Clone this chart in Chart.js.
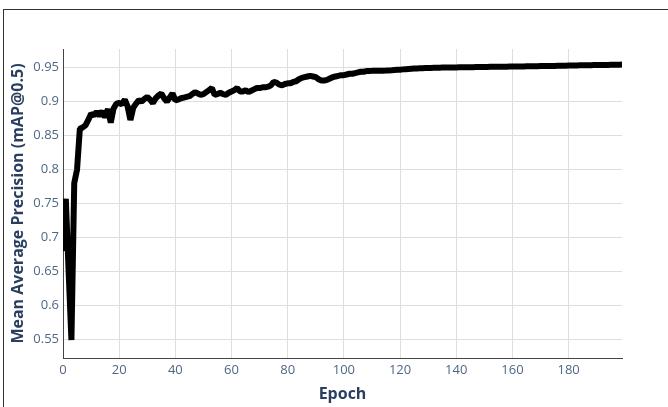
<!DOCTYPE html>
<html>
<head>
<meta charset="utf-8">
<script src="https://cdn.jsdelivr.net/npm/chart.js@4"></script>
<style>
  html, body { margin: 0; padding: 0; background: #fff; width: 668px; height: 407px; overflow: hidden; }
  #frame { position: absolute; left: 3px; top: 9px; width: 800px; height: 600px; border-left: 1.5px solid #333; border-top: 1.5px solid #333; }
  #wrap { position: absolute; left: 0; top: 0; width: 668px; height: 407px; }
</style>
</head>
<body>
<div id="frame"></div>
<div id="wrap"><canvas id="c" width="668" height="407"></canvas></div>
<script>
const epochs = [
  0,1,2,3,4,5,6,7,8,9,10,11,12,13,14,15,16,17,18,19,
  20,21,22,23,24,25,26,27,28,29,30,31,32,33,34,35,36,37,38,39,
  40,41,42,43,44,45,46,47,48,49,50,51,52,53,54,55,56,57,58,59,
  60,61,62,63,64,65,66,67,68,69,70,71,72,73,74,75,76,77,78,79,
  80,81,82,83,84,85,86,87,88,89,90,91,92,93,94,95,96,97,98,99,
  100,101,102,103,104,105,106,107,108,109,110,111,112,113,114,115,116,117,118,119,
  120,121,122,123,124,125,126,127,128,129,130,131,132,133,134,135,136,137,138,139,
  140,141,142,143,144,145,146,147,148,149,150,151,152,153,154,155,156,157,158,159,
  160,161,162,163,164,165,166,167,168,169,170,171,172,173,174,175,176,177,178,179,
  180,181,182,183,184,185,186,187,188,189,190,191,192,193,194,195,196,197,198,199
];
const mapValues = [
  0.680, 0.757, 0.650, 0.549, 0.780, 0.800, 0.860, 0.862, 0.865, 0.873,
  0.882, 0.880, 0.885, 0.879, 0.886, 0.877, 0.889, 0.869, 0.890, 0.897,
  0.898, 0.896, 0.903, 0.893, 0.873, 0.891, 0.897, 0.902, 0.900, 0.904,
  0.907, 0.903, 0.898, 0.905, 0.909, 0.912, 0.905, 0.900, 0.906, 0.912,
  0.902, 0.903, 0.905, 0.906, 0.907, 0.908, 0.911, 0.914, 0.912, 0.910,
  0.911, 0.914, 0.917, 0.920, 0.910, 0.911, 0.913, 0.911, 0.910, 0.913,
  0.915, 0.917, 0.920, 0.915, 0.915, 0.917, 0.914, 0.916, 0.918, 0.920,
  0.920, 0.921, 0.921, 0.922, 0.924, 0.929, 0.928, 0.925, 0.924, 0.926,
  0.927, 0.927, 0.929, 0.930, 0.933, 0.935, 0.936, 0.937, 0.938, 0.937,
  0.936, 0.933, 0.931, 0.931, 0.932, 0.934, 0.936, 0.937, 0.938, 0.939,
  0.939, 0.940, 0.941, 0.941, 0.942, 0.943, 0.944, 0.944, 0.945, 0.945,
  0.9453, 0.9454, 0.9454, 0.9455, 0.9455, 0.9457, 0.9460, 0.9462, 0.9465, 0.9468,
  0.9471, 0.9475, 0.9478, 0.9481, 0.9484, 0.9487, 0.9489, 0.9491, 0.9493, 0.9495,
  0.9496, 0.9497, 0.9498, 0.9499, 0.9500, 0.9501, 0.9502, 0.9502, 0.9503, 0.9504,
  0.9504, 0.9505, 0.9506, 0.9506, 0.9507, 0.9508, 0.9508, 0.9509, 0.9510, 0.9510,
  0.9511, 0.9511, 0.9512, 0.9513, 0.9513, 0.9514, 0.9514, 0.9515, 0.9515, 0.9516,
  0.9517, 0.9517, 0.9518, 0.9518, 0.9519, 0.9520, 0.9520, 0.9521, 0.9522, 0.9522,
  0.9523, 0.9524, 0.9524, 0.9525, 0.9526, 0.9526, 0.9527, 0.9528, 0.9529, 0.9530,
  0.9531, 0.9532, 0.9532, 0.9533, 0.9534, 0.9535, 0.9535, 0.9536, 0.9537, 0.9538,
  0.9538, 0.9539, 0.9540, 0.9540, 0.9541, 0.9542, 0.9542, 0.9543, 0.9544, 0.9545
];
const xTickValues = [0, 20, 40, 60, 80, 100, 120, 140, 160, 180];
const yTickValues = [0.55, 0.6, 0.65, 0.7, 0.75, 0.8, 0.85, 0.9, 0.95];
const xTitle = 'Epoch';
const yTitle = 'Mean Average Precision (mAP@0.5)';

const tickColor = '#506784';
const titleColor = '#2a3f5f';
const gridColor = '#dedede';

const points = epochs.map((e, i) => ({ x: e, y: mapValues[i] }));

new Chart(document.getElementById('c'), {
  type: 'line',
  data: {
    datasets: [{
      data: points,
      borderColor: '#000',
      borderWidth: 6,
      borderJoinStyle: 'bevel',
      pointRadius: 0,
      tension: 0,
      fill: false
    }]
  },
  options: {
    responsive: false,
    animation: false,
    layout: { padding: { left: 0, right: 46, top: 49, bottom: 0 } },
    plugins: { legend: { display: false }, tooltip: { enabled: false } },
    scales: {
      x: {
        type: 'linear',
        min: 0,
        max: 199,
        afterBuildTicks: s => { s.ticks = xTickValues.map(v => ({ value: v })); },
        afterFit: s => { s.height = 49; },
        grid: { color: gridColor, lineWidth: 1, drawTicks: false },
        border: { display: true, color: '#444', width: 1 },
        ticks: { color: tickColor, font: { family: 'Open Sans', size: 13 }, padding: 4, maxRotation: 0,
                 callback: v => String(v) },
        title: { display: true, text: xTitle, color: titleColor, font: { family: 'Open Sans', size: 16, weight: 'bold' }, padding: { top: 2, bottom: 3 } }
      },
      y: {
        type: 'linear',
        min: 0.5225,
        max: 0.9775,
        afterBuildTicks: s => { s.ticks = yTickValues.map(v => ({ value: v })); },
        afterFit: s => { s.width = 63; },
        grid: { color: gridColor, lineWidth: 1, drawTicks: false },
        border: { display: true, color: '#444', width: 1 },
        ticks: { color: tickColor, font: { family: 'Open Sans', size: 13 }, padding: 4,
                 callback: v => String(parseFloat(v.toFixed(2))) },
        title: { display: true, text: yTitle, color: titleColor, font: { family: 'Open Sans', size: 16, weight: 'bold' }, padding: { top: 8.5, bottom: 0 } }
      }
    }
  }
});
</script>
</body>
</html>
